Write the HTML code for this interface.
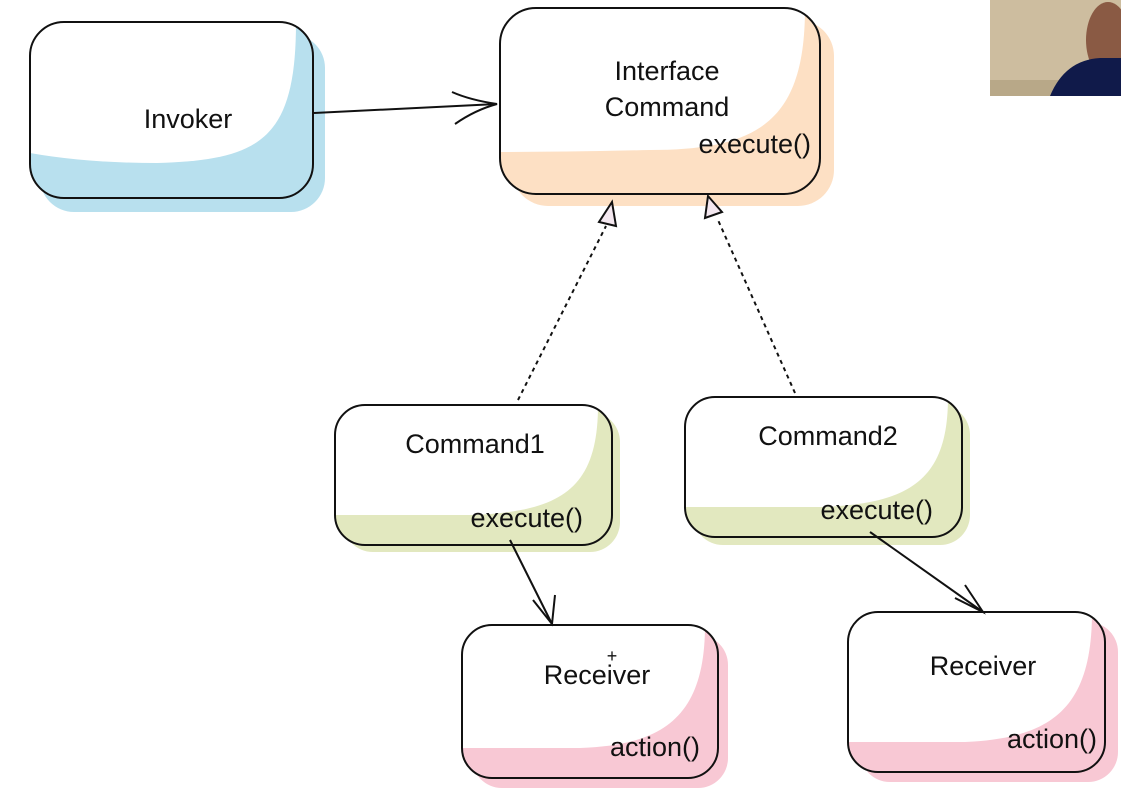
<!DOCTYPE html>
<html><head><style>
body{margin:0;background:#fff;width:1121px;height:795px;overflow:hidden}
svg text{font-family:"Liberation Sans",sans-serif;font-size:27px;fill:#111}
</style></head><body>
<svg width="1121" height="795" viewBox="0 0 1121 795">
<defs>
<clipPath id="c1"><rect x="30" y="22" width="283" height="176" rx="34"/></clipPath>
<clipPath id="c2"><rect x="500" y="8" width="320" height="186" rx="36"/></clipPath>
<clipPath id="c3"><rect x="335" y="405" width="277" height="140" rx="30"/></clipPath>
<clipPath id="c4"><rect x="685" y="397" width="277" height="140" rx="30"/></clipPath>
<clipPath id="c5"><rect x="462" y="625" width="256" height="153" rx="30"/></clipPath>
<clipPath id="c6"><rect x="848" y="612" width="257" height="160" rx="30"/></clipPath>
</defs>
<!-- Invoker -->
<rect x="40" y="34" width="285" height="178" rx="34" fill="#b8e0ee"/>
<rect x="30" y="22" width="283" height="176" rx="34" fill="#b8e0ee"/>
<g clip-path="url(#c1)"><path d="M30 22 L296 22 C296 140 260 160 157 163 Q86 163 30 153 Z" fill="#fff"/></g>
<rect x="30" y="22" width="283" height="176" rx="34" fill="none" stroke="#111" stroke-width="2"/>
<text x="188" y="128" text-anchor="middle">Invoker</text>
<!-- Interface -->
<rect x="512" y="20" width="322" height="186" rx="36" fill="#fde0c4"/>
<rect x="500" y="8" width="320" height="186" rx="36" fill="#fde0c4"/>
<g clip-path="url(#c2)"><path d="M500 8 L805 8 C805 120 760 150 650 150 Q560 152 500 152 Z" fill="#fff"/></g>
<rect x="500" y="8" width="320" height="186" rx="36" fill="none" stroke="#111" stroke-width="2"/>
<text x="667" y="80" text-anchor="middle">Interface</text>
<text x="667" y="116" text-anchor="middle">Command</text>
<text x="811" y="153" text-anchor="end">execute()</text>
<!-- Command1 -->
<rect x="343" y="412" width="277" height="140" rx="30" fill="#e2e8bf"/>
<rect x="335" y="405" width="277" height="140" rx="30" fill="#e2e8bf"/>
<g clip-path="url(#c3)"><path d="M335 405 L598 405 C598 490 560 512 470 515 Q400 515 335 515 Z" fill="#fff"/></g>
<rect x="335" y="405" width="277" height="140" rx="30" fill="none" stroke="#111" stroke-width="2"/>
<text x="475" y="453" text-anchor="middle">Command1</text>
<text x="583" y="527" text-anchor="end">execute()</text>
<!-- Command2 -->
<rect x="693" y="405" width="277" height="140" rx="30" fill="#e2e8bf"/>
<rect x="685" y="397" width="277" height="140" rx="30" fill="#e2e8bf"/>
<g clip-path="url(#c4)"><path d="M685 397 L948 397 C948 480 910 504 820 507 Q750 507 685 507 Z" fill="#fff"/></g>
<rect x="685" y="397" width="277" height="140" rx="30" fill="none" stroke="#111" stroke-width="2"/>
<text x="828" y="445" text-anchor="middle">Command2</text>
<text x="933" y="519" text-anchor="end">execute()</text>
<!-- Receiver1 -->
<rect x="472" y="635" width="256" height="153" rx="30" fill="#f8c8d4"/>
<rect x="462" y="625" width="256" height="153" rx="30" fill="#f8c8d4"/>
<g clip-path="url(#c5)"><path d="M462 625 L705 625 C705 720 660 745 580 748 Q520 748 462 748 Z" fill="#fff"/></g>
<rect x="462" y="625" width="256" height="153" rx="30" fill="none" stroke="#111" stroke-width="2"/>
<text x="597" y="684" text-anchor="middle">Receiver</text>
<text x="700" y="756" text-anchor="end">action()</text>
<text x="612" y="662" text-anchor="middle" style="font-size:18px">+</text>
<!-- Receiver2 -->
<rect x="860" y="622" width="258" height="160" rx="30" fill="#f8c8d4"/>
<rect x="848" y="612" width="257" height="160" rx="30" fill="#f8c8d4"/>
<g clip-path="url(#c6)"><path d="M848 612 L1092 612 C1092 710 1050 738 965 742 Q900 742 848 742 Z" fill="#fff"/></g>
<rect x="848" y="612" width="257" height="160" rx="30" fill="none" stroke="#111" stroke-width="2"/>
<text x="983" y="675" text-anchor="middle">Receiver</text>
<text x="1097" y="748" text-anchor="end">action()</text>
<!-- arrows -->
<g stroke="#111" stroke-width="2" fill="none">
<path d="M314 113 L497 104"/>
<path d="M452 92 Q470 100 497 104 Q475 110 455 124"/>
<path d="M518 400 L606 226" stroke-dasharray="4 4"/>
<path d="M795 393 L718 220" stroke-dasharray="4 4"/>
<path d="M510 540 L552 624"/>
<path d="M533 600 L552 624 L555 595"/>
<path d="M870 532 L983 612"/>
<path d="M955 598 L983 612 L965 585"/>
</g>
<polygon points="612,202 599,222 616,226" fill="#f4e8f0" stroke="#111" stroke-width="2"/>
<polygon points="708,196 705,218 722,212" fill="#f4e8f0" stroke="#111" stroke-width="2"/>
<!-- webcam -->
<rect x="990" y="0" width="131" height="96" fill="#cdbd9f"/>
<rect x="990" y="80" width="131" height="16" fill="#b8a888"/>
<ellipse cx="1108" cy="40" rx="22" ry="38" fill="#8a5a44"/>
<path d="M1050 96 Q1065 60 1100 58 L1121 58 L1121 96 Z" fill="#101a4a"/>
</svg>
</body></html>
